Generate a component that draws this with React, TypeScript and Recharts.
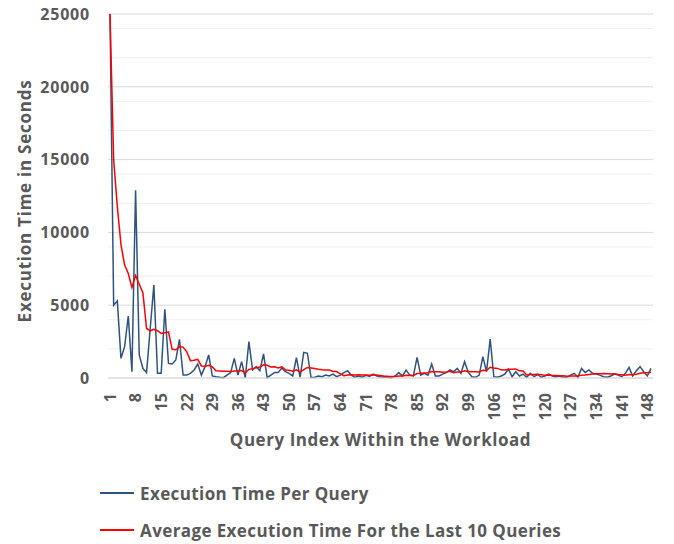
import React from 'react';
import { LineChart, Line, XAxis, YAxis, CartesianGrid, Legend } from 'recharts';

const queryIndex: string[] = Array.from({ length: 149 }, (_, i) => String(i + 1));

const executionTime: number[] = [
  25000, 5000, 5300, 1350, 2150, 4260, 435, 12900, 1580, 660,
  370, 3400, 6390, 320, 320, 4720, 1000, 960, 1240, 2660,
  200, 200, 320, 550, 960, 200, 780, 1580, 140, 90,
  50, 20, 200, 370, 1350, 200, 1120, 20, 2500, 550,
  780, 500, 1650, 20, 200, 370, 370, 690, 430, 320,
  140, 1400, 50, 1760, 1700, 30, 50, 140, 90, 200,
  140, 270, 90, 200, 370, 500, 200, 50, 140, 50,
  180, 110, 270, 140, 90, 50, 50, 20, 140, 370,
  140, 550, 200, 140, 1420, 200, 320, 200, 960, 140,
  140, 270, 370, 550, 430, 660, 320, 1120, 400, 90,
  50, 200, 1470, 430, 2680, 90, 50, 140, 270, 600,
  90, 430, 140, 270, 50, 320, 90, 230, 50, 140,
  270, 140, 90, 140, 50, 50, 200, 320, 50, 660,
  370, 550, 320, 270, 200, 90, 50, 140, 270, 200,
  90, 320, 730, 140, 500, 780, 430, 140, 660,
];

const lastTenAverage: number[] = [
  25000, 15000, 11767, 9163, 7760, 7177, 6214, 7049, 6442, 5864,
  3401, 3241, 3350, 3247, 3064, 3110, 3166, 1972, 1938, 2138,
  2121, 1801, 1194, 1217, 1281, 829, 807, 869, 759, 502,
  487, 469, 457, 439, 478, 478, 512, 356, 592, 638,
  711, 759, 904, 869, 754, 771, 696, 763, 556, 533,
  469, 559, 399, 573, 723, 689, 657, 602, 568, 556,
  556, 443, 447, 291, 158, 205, 220, 211, 216, 201,
  205, 189, 207, 201, 173, 128, 113, 110, 110, 142,
  138, 182, 175, 175, 308, 323, 350, 368, 450, 427,
  427, 399, 416, 457, 358, 404, 404, 496, 440, 435,
  426, 419, 529, 517, 742, 685, 658, 560, 547, 598,
  602, 625, 492, 476, 213, 236, 240, 249, 227, 181,
  199, 170, 165, 152, 152, 125, 136, 145, 145, 197,
  207, 248, 271, 284, 299, 303, 288, 270, 292, 246,
  218, 195, 236, 223, 253, 322, 360, 360, 399,
];

const yTicks: number[] = [0, 5000, 10000, 15000, 20000, 25000];
const minorGridValues: number[] = [
  1000, 2000, 3000, 4000, 6000, 7000, 8000, 9000, 11000, 12000, 13000, 14000,
  16000, 17000, 18000, 19000, 21000, 22000, 23000, 24000,
];

const seriesNames = ['Execution Time Per Query', 'Average Execution Time For the Last 10 Queries'];
const seriesColors = ['#2f5381', '#ff0000'];

const data = queryIndex.map((q, i) => ({ q, exec: executionTime[i], avg: lastTenAverage[i] }));

const FONT = '"Open Sans", "Liberation Sans", sans-serif';
const TEXT = '#595959';

const XTick = (props: any) => {
  const { x, y, payload } = props;
  return (
    <text
      x={x}
      y={y}
      dy="0.36em"
      transform={`rotate(-90, ${x}, ${y})`}
      textAnchor="end"
      fontFamily={FONT}
      fontWeight={700}
      fontSize={16}
      fill={TEXT}
    >
      {payload.value}
    </text>
  );
};

const YTick = (props: any) => {
  const { x, y, payload } = props;
  return (
    <text
      x={x}
      y={y}
      dy="0.36em"
      textAnchor="end"
      fontFamily={FONT}
      fontWeight={700}
      fontSize={16}
      letterSpacing={0.8}
      fill={TEXT}
    >
      {payload.value}
    </text>
  );
};

const XTitle = (props: any) => {
  const vb = props.viewBox || { x: 108, y: 378, width: 544 };
  return (
    <text
      x={vb.x + vb.width / 2}
      y={vb.y + 68}
      textAnchor="middle"
      fontFamily={FONT}
      fontWeight={700}
      fontSize={17}
      letterSpacing={0.55}
      fill={TEXT}
    >
      Query Index Within the Workload
    </text>
  );
};

const YTitle = () => (
  <text
    x={31}
    y={201}
    transform="rotate(-90, 31, 201)"
    textAnchor="middle"
    fontFamily={FONT}
    fontWeight={700}
    fontSize={17}
    letterSpacing={0.75}
    fill={TEXT}
  >
    Execution Time in Seconds
  </text>
);

const LegendContent = () => (
  <div
    style={{
      position: 'relative',
      width: 674,
      height: 80,
      fontFamily: FONT,
      fontWeight: 700,
      fontSize: 17,
      letterSpacing: 0.4,
      color: TEXT,
    }}
  >
    {seriesNames.map((name, i) => (
      <div
        key={name}
        style={{
          position: 'absolute',
          left: 100,
          top: (i === 0 ? 29 : 66) - 12,
          height: 24,
          display: 'flex',
          alignItems: 'center',
          whiteSpace: 'nowrap',
        }}
      >
        <span
          style={{
            display: 'inline-block',
            width: 34,
            height: 0,
            borderTop: `2px solid ${seriesColors[i]}`,
            marginRight: 6,
          }}
        />
        <span>{name}</span>
      </div>
    ))}
  </div>
);

export default function App() {
  return (
    <div style={{ position: 'absolute', left: 0, top: 0, width: 674, height: 544, background: '#fff' }}>
      <LineChart
        width={674}
        height={544}
        data={data}
        margin={{ top: 14, right: 21, left: 0, bottom: 0 }}
      >
        <CartesianGrid vertical={false} horizontalValues={minorGridValues} stroke="#efefef" strokeWidth={1} />
        <CartesianGrid vertical={false} horizontalValues={yTicks} stroke="#d9d9d9" strokeWidth={1} />
        <XAxis
          dataKey="q"
          interval={6}
          tick={<XTick />}
          tickLine={false}
          tickSize={0}
          tickMargin={15}
          axisLine={{ stroke: '#d9d9d9' }}
          height={86}
          padding={{ left: 2, right: 2 }}
          label={<XTitle />}
        />
        <YAxis
          domain={[0, 25000]}
          ticks={yTicks}
          tick={<YTick />}
          axisLine={false}
          tickLine={false}
          tickSize={0}
          tickMargin={18}
          width={108}
          label={<YTitle />}
        />
        <Legend verticalAlign="bottom" align="left" height={80} content={<LegendContent />} wrapperStyle={{ left: 0, width: 674 }} />
        <Line
          type="linear"
          dataKey="exec"
          name={seriesNames[0]}
          stroke={seriesColors[0]}
          strokeWidth={1.5}
          dot={false}
          activeDot={false}
          isAnimationActive={false}
        />
        <Line
          type="linear"
          dataKey="avg"
          name={seriesNames[1]}
          stroke={seriesColors[1]}
          strokeWidth={1.5}
          dot={false}
          activeDot={false}
          isAnimationActive={false}
        />
      </LineChart>
    </div>
  );
}
